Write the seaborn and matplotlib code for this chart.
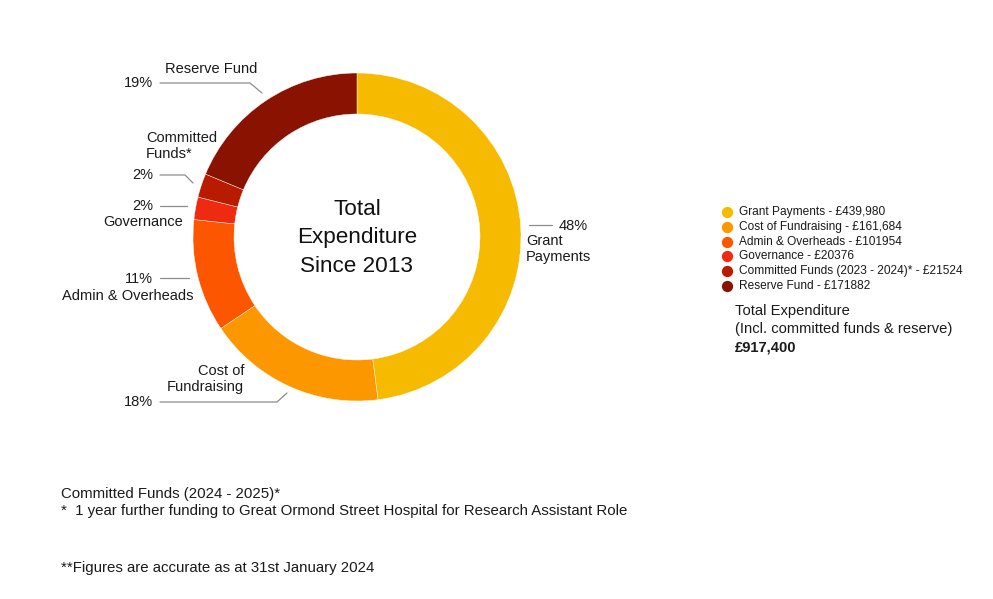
import matplotlib
matplotlib.use("Agg")
import matplotlib.pyplot as plt
import seaborn as sns

# data
categories = ["Grant Payments", "Cost of Fundraising", "Admin & Overheads",
              "Governance", "Committed Funds (2023 - 2024)*", "Reserve Fund"]
amounts = [439980, 161684, 101954, 20376, 21524, 171882]
amount_labels = ["£439,980", "£161,684", "£101954", "£20376", "£21524", "£171882"]
colors = ["#F6BA00", "#FC9700", "#FC5700", "#EE2A10", "#B81B00", "#8A1200"]
total_label = "£917,400"

sns.set_theme(style="white")
plt.rcParams["font.family"] = ["Liberation Sans", "DejaVu Sans"]

W, H = 993, 599
fig = plt.figure(figsize=(W / 100, H / 100), dpi=100)
ax = fig.add_axes([0, 0, 1, 1])


def Y(y):
    # pixel row -> data y
    return H - y


cx, cy, r = 357, 237, 164
ax.pie(amounts, colors=colors, startangle=90, counterclock=False,
       center=(cx, Y(cy)), radius=r,
       wedgeprops=dict(width=41, edgecolor="white", linewidth=0.3))
ax.set_xlim(0, W)
ax.set_ylim(0, H)
ax.set_aspect("equal")
ax.axis("off")

ax.text(cx, Y(cy + 1), "Total\nExpenditure\nSince 2013", ha="center", va="center",
        fontsize=16.2, linespacing=1.45, color="#111111")

# leader lines
line_kw = dict(color="#8c8c8c", lw=0.9)
leaders = [
    [(160, 83), (250, 83), (262, 93)],
    [(160, 175), (185, 175), (193, 183)],
    [(160, 206), (187, 206)],
    [(160, 278), (189, 278)],
    [(160, 402), (277, 402), (287, 393)],
    [(529, 225), (552, 225)],
]
for pts in leaders:
    ax.plot([p[0] for p in pts], [Y(p[1]) for p in pts], **line_kw)

fs = 10.5
tc = "#1a1a1a"
pct = [f"{round(a / sum(amounts) * 100)}%" for a in amounts]
ax.text(153, Y(83), pct[5], ha="right", va="center", fontsize=fs, color=tc)
ax.text(165, Y(69), "Reserve Fund", ha="left", va="center", fontsize=fs, color=tc)
ax.text(146, Y(146), "Committed\nFunds*", ha="left", va="center", fontsize=fs,
        color=tc, linespacing=1.25)
ax.text(153, Y(175), pct[4], ha="right", va="center", fontsize=fs, color=tc)
ax.text(153, Y(206), pct[3], ha="right", va="center", fontsize=fs, color=tc)
ax.text(183, Y(222), "Governance", ha="right", va="center", fontsize=fs, color=tc)
ax.text(153, Y(279), pct[2], ha="right", va="center", fontsize=fs, color=tc)
ax.text(194, Y(296), "Admin & Overheads", ha="right", va="center", fontsize=fs, color=tc)
ax.text(244, Y(379), "Cost of\nFundraising", ha="right", va="center", fontsize=fs,
        color=tc, linespacing=1.25)
ax.text(153, Y(402), pct[1], ha="right", va="center", fontsize=fs, color=tc)
ax.text(559, Y(226), pct[0], ha="left", va="center", fontsize=fs, color=tc)
ax.text(526, Y(249), "Grant\nPayments", ha="left", va="center", fontsize=fs,
        color=tc, linespacing=1.25)

# legend
for i, (cat, lab, col) in enumerate(zip(categories, amount_labels, colors)):
    yy = 212 + i * 14.8
    ax.scatter([727], [Y(yy)], s=66, color=col, linewidths=0)
    ax.text(739, Y(yy), f"{cat} - {lab}", ha="left", va="center", fontsize=8.6, color=tc)

ax.text(735, Y(311), "Total Expenditure", ha="left", va="center", fontsize=10.6, color=tc)
ax.text(735, Y(329), "(Incl. committed funds & reserve)", ha="left", va="center",
        fontsize=10.6, color=tc)
ax.text(735, Y(347), total_label, ha="left", va="center", fontsize=10.6,
        fontweight="bold", color=tc)

# notes
ax.text(61, Y(494), "Committed Funds (2024 - 2025)*", ha="left", va="center",
        fontsize=10.8, color=tc)
ax.text(61, Y(511), "*  1 year further funding to Great Ormond Street Hospital for Research Assistant Role",
        ha="left", va="center", fontsize=10.8, color=tc)
ax.text(61, Y(568), "**Figures are accurate as at 31st January 2024", ha="left",
        va="center", fontsize=10.8, color=tc)

fig.savefig("out.png", dpi=100, facecolor="white")
